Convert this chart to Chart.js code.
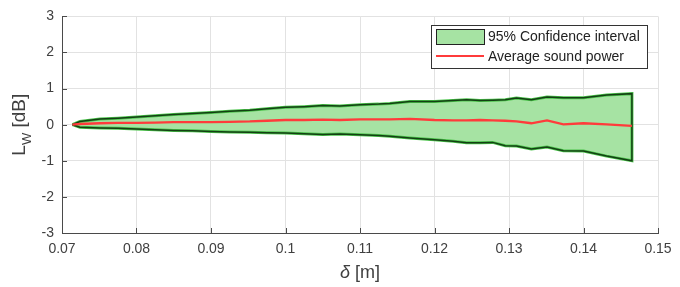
<!DOCTYPE html>
<html>
<head>
<meta charset="utf-8">
<script src="https://cdn.jsdelivr.net/npm/chart.js@4/dist/chart.umd.min.js"></script>
<style>
html,body{margin:0;padding:0;background:#fff;}
#wrap{width:680px;height:287px;position:relative;}
</style>
</head>
<body>
<div id="wrap"><canvas id="c" width="680" height="287"></canvas></div>
<script>
// ---- data ----
const delta = [0.0714,0.0724,0.0751,0.0775,0.0800,0.0825,0.0850,0.0875,0.0900,0.0925,0.0952,0.0975,0.1000,0.1025,0.1050,0.1073,0.1100,0.1125,0.1140,0.1167,0.1200,0.1225,0.1243,0.1261,0.1278,0.1295,0.1310,0.1330,0.1351,0.1373,0.1400,0.1431,0.1465];
const upperCI = [0,0.09,0.16,0.18,0.21,0.25,0.28,0.31,0.34,0.37,0.40,0.44,0.48,0.50,0.53,0.52,0.55,0.57,0.59,0.64,0.64,0.67,0.69,0.67,0.68,0.69,0.74,0.69,0.77,0.75,0.75,0.82,0.86];
const lowerCI = [0,-0.07,-0.09,-0.10,-0.12,-0.14,-0.16,-0.17,-0.19,-0.20,-0.21,-0.22,-0.23,-0.25,-0.27,-0.26,-0.28,-0.30,-0.32,-0.37,-0.42,-0.46,-0.50,-0.50,-0.49,-0.58,-0.59,-0.67,-0.62,-0.72,-0.73,-0.87,-1.00];
const meanLW = [0,0.02,0.04,0.05,0.05,0.06,0.07,0.07,0.07,0.08,0.09,0.11,0.13,0.13,0.14,0.13,0.15,0.15,0.15,0.16,0.13,0.12,0.12,0.13,0.12,0.11,0.09,0.04,0.12,0.01,0.04,0.01,-0.03];
const xTicks = [0.07,0.08,0.09,0.10,0.11,0.12,0.13,0.14,0.15];
const yTicks = [-3,-2,-1,0,1,2,3];
const legendLabels = ['95% Confidence interval','Average sound power'];

// ---- build datasets ----
const polygon = [];
for (let i = 0; i < delta.length; i++) polygon.push({x: delta[i], y: upperCI[i]});
for (let i = delta.length - 1; i >= 0; i--) polygon.push({x: delta[i], y: lowerCI[i]});
polygon.push({x: delta[0], y: upperCI[0]});
const meanPts = delta.map((d, i) => ({x: d, y: meanLW[i]}));

const FONT = '"Liberation Sans", Arial, Helvetica, sans-serif';
const TXT = '#404040';
const FILL = 'rgb(166,227,163)';
const EDGE = '#143f14';
const HALO = '#49c449';
const RED = '#ff3b3b';

const decor = {
  id: 'decor',
  afterDraw(chart) {
    const ctx = chart.ctx;
    const ca = chart.chartArea;
    const xs = chart.scales.x, ys = chart.scales.y;
    ctx.save();
    // inner tick marks
    ctx.strokeStyle = '#4a4a4a';
    ctx.lineWidth = 1;
    ctx.beginPath();
    xTicks.forEach(v => {
      const px = Math.round(xs.getPixelForValue(v)) + 0.5;
      ctx.moveTo(px, ca.bottom); ctx.lineTo(px, ca.bottom - 5);
    });
    yTicks.forEach(v => {
      const py = Math.round(ys.getPixelForValue(v)) + 0.5;
      ctx.moveTo(ca.left, py); ctx.lineTo(ca.left + 5, py);
    });
    ctx.stroke();

    // legend
    const lx = 431, ly = 25, lw = 216, lh = 43;
    ctx.fillStyle = '#fff';
    ctx.fillRect(lx, ly, lw, lh);
    ctx.strokeStyle = '#333';
    ctx.strokeRect(lx + 0.5, ly + 0.5, lw, lh);
    ctx.fillStyle = FILL;
    ctx.fillRect(436, 29, 48, 15);
    ctx.strokeStyle = '#222';
    ctx.strokeRect(436.5, 29.5, 48, 15);
    ctx.strokeStyle = RED;
    ctx.lineWidth = 2.2;
    ctx.beginPath(); ctx.moveTo(436, 56); ctx.lineTo(484, 56); ctx.stroke();
    ctx.fillStyle = '#222';
    ctx.font = '14px ' + FONT;
    ctx.textBaseline = 'middle';
    ctx.textAlign = 'left';
    ctx.fillText(legendLabels[0], 488, 37);
    ctx.fillText(legendLabels[1], 488, 57);

    // x title: δ [m]
    ctx.fillStyle = TXT;
    ctx.textBaseline = 'alphabetic';
    const cx = (ca.left + ca.right) / 2;
    ctx.font = 'italic 18px ' + FONT;
    const w1 = ctx.measureText('δ').width;
    ctx.font = '18px ' + FONT;
    const w2 = ctx.measureText(' [m]').width;
    let x0 = cx - (w1 + w2) / 2;
    ctx.font = 'italic 18px ' + FONT;
    ctx.fillText('δ', x0, 278);
    ctx.font = '18px ' + FONT;
    ctx.fillText(' [m]', x0 + w1, 278);

    // y title: L_W [dB]
    const cy = (ca.top + ca.bottom) / 2;
    ctx.translate(25, cy);
    ctx.rotate(-Math.PI / 2);
    ctx.font = '19px ' + FONT;
    const a = ctx.measureText('L').width;
    const c = ctx.measureText(' [dB]').width;
    ctx.font = '13px ' + FONT;
    const b = ctx.measureText('W').width;
    let t = -(a + b + c) / 2;
    ctx.font = '19px ' + FONT;
    ctx.fillText('L', t, 0);
    ctx.font = '13px ' + FONT;
    ctx.fillText('W', t + a, 6);
    ctx.font = '19px ' + FONT;
    ctx.fillText(' [dB]', t + a + b, 0);
    ctx.restore();
  }
};

new Chart(document.getElementById('c'), {
  type: 'line',
  data: {
    datasets: [
      {
        label: legendLabels[0],
        data: polygon,
        fill: 'shape',
        backgroundColor: FILL,
        borderColor: HALO,
        borderWidth: 3,
        pointRadius: 0,
        tension: 0,
        order: 3
      },
      {
        label: legendLabels[0] + ' edge',
        data: polygon,
        fill: false,
        borderColor: EDGE,
        borderWidth: 1.5,
        pointRadius: 0,
        tension: 0,
        order: 2
      },
      {
        label: legendLabels[1],
        data: meanPts,
        fill: false,
        borderColor: RED,
        borderWidth: 2.3,
        pointRadius: 0,
        tension: 0,
        order: 1
      }
    ]
  },
  options: {
    responsive: false,
    animation: false,
    devicePixelRatio: 1,
    layout: {padding: {left: 0, right: 22, top: 15, bottom: 0}},
    plugins: {legend: {display: false}, tooltip: {enabled: false}},
    scales: {
      x: {
        type: 'linear', min: 0.07, max: 0.15,
        afterBuildTicks: s => { s.ticks = xTicks.map(v => ({value: v})); },
        afterFit: s => { s.height = 54; },
        grid: {color: '#e2e2e2', drawTicks: false},
        border: {display: true, color: '#4a4a4a', width: 1},
        ticks: {
          color: TXT, padding: 8, maxRotation: 0,
          font: {family: FONT, size: 14},
          callback: v => String(Number(v.toFixed(2)))
        }
      },
      y: {
        type: 'linear', min: -3, max: 3,
        afterBuildTicks: s => { s.ticks = yTicks.map(v => ({value: v})); },
        afterFit: s => { s.width = 62; },
        grid: {color: '#e2e2e2', drawTicks: false},
        border: {display: true, color: '#4a4a4a', width: 1},
        ticks: {
          color: TXT, padding: 8,
          font: {family: FONT, size: 14},
          callback: v => String(v)
        }
      }
    }
  },
  plugins: [decor]
});
</script>
</body>
</html>
